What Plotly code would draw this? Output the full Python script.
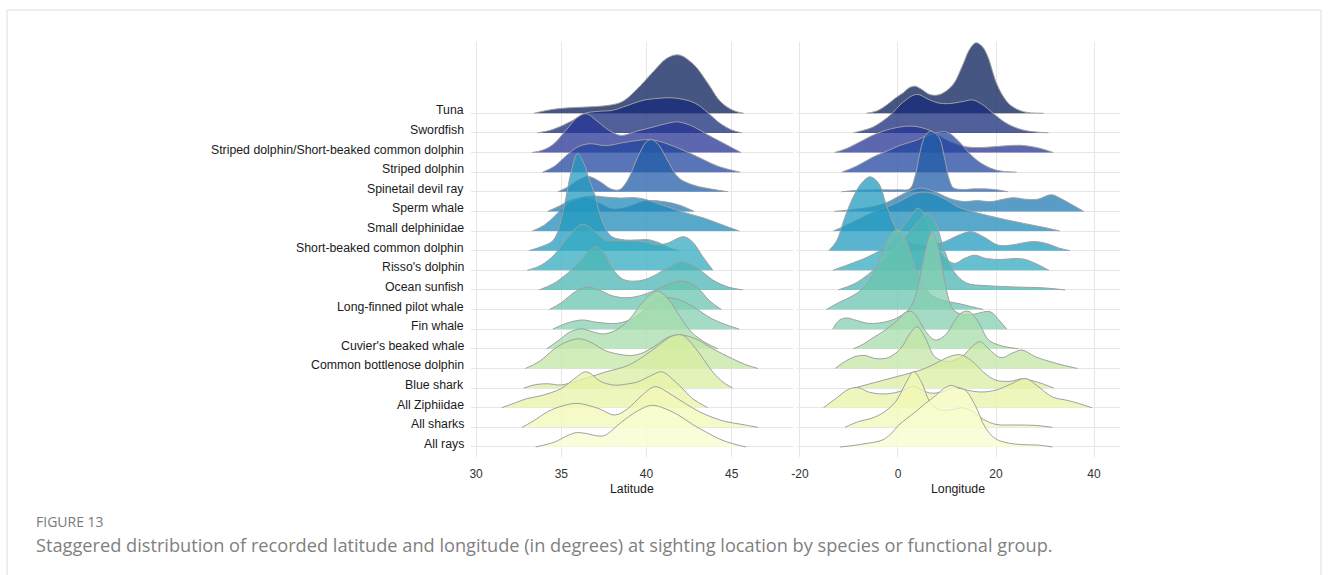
import plotly.graph_objects as go

# ---------------- data (ridge heights in row units) -------------
species = ["Tuna", "Swordfish", "Striped dolphin/Short-beaked common dolphin",
           "Striped dolphin", "Spinetail devil ray", "Sperm whale", "Small delphinidae",
           "Short-beaked common dolphin", "Risso's dolphin", "Ocean sunfish",
           "Long-finned pilot whale", "Fin whale", "Cuvier's beaked whale",
           "Common bottlenose dolphin", "Blue shark", "All Ziphiidae", "All sharks", "All rays"]

lat_ticks = [30, 35, 40, 45]
lat_tick_text = ["30", "35", "40", "45"]
lon_ticks = [-20, 0, 20, 40]
lon_tick_text = ["-20", "0", "20", "40"]

# latitude ridges: (latitude, height)
lat_tuna = [(33.4,0.0),(34.0,0.12),(34.9,0.24),(36.0,0.3),(37.0,0.34),(37.9,0.42),(38.6,0.6),(39.4,1.19),(40.4,2.12),(41.2,2.8),(41.9,2.97),(42.8,2.46),(43.6,1.53),(44.35,0.59),(45.1,0.14),(45.7,0.0)]
lat_swordfish = [(33.6,0.0),(34.3,0.12),(34.9,0.31),(35.8,0.7),(36.4,1.0),(37.2,1.1),(38.0,1.15),(38.8,1.37),(39.8,1.66),(40.7,1.76),(41.6,1.78),(42.8,1.54),(43.6,1.03),(44.3,0.5),(45.0,0.15),(45.6,0.0)]
lat_sd_sbcd = [(33.3,0.0),(33.9,0.12),(34.5,0.4),(35.3,1.16),(35.9,1.76),(36.45,1.98),(37.1,1.6),(37.8,1.13),(38.5,0.87),(39.4,1.08),(40.4,1.3),(41.4,1.52),(41.9,1.56),(42.8,1.3),(43.6,0.9),(44.7,0.39),(45.55,0.0)]
lat_striped = [(33.9,0.0),(34.6,0.3),(35.3,0.85),(36.0,1.3),(36.7,1.45),(37.6,1.35),(38.6,1.5),(39.5,1.62),(40.3,1.65),(41.2,1.45),(42.2,1.1),(43.2,0.7),(44.2,0.3),(45.5,0.0)]
lat_spinetail = [(34.8,0.0),(35.4,0.25),(36.0,0.6),(36.6,0.78),(37.3,0.5),(37.9,0.15),(38.4,0.1),(38.9,0.6),(39.5,1.8),(40.0,2.55),(40.3,2.66),(40.7,2.4),(41.3,1.5),(41.9,0.7),(42.8,0.33),(43.8,0.14),(44.8,0.0)]
lat_sperm = [(34.2,0.0),(34.9,0.28),(35.6,0.58),(36.4,0.68),(37.2,0.42),(38.0,0.12),(38.8,0.2),(39.5,0.42),(40.1,0.55),(41.0,0.5),(41.9,0.33),(42.8,0.0)]
lat_small_delph = [(33.3,0.0),(34.0,0.3),(34.6,0.75),(35.2,1.27),(36.1,1.68),(36.9,1.78),(37.7,1.72),(38.5,1.68),(39.3,1.7),(39.9,1.62),(41.0,1.3),(42.2,0.95),(43.4,0.65),(44.5,0.3),(45.45,0.0)]
lat_sbcd = [(33.1,0.0),(33.8,0.2),(34.55,0.55),(35.15,2.2),(35.55,3.9),(35.95,4.95),(36.3,4.5),(36.65,3.6),(36.95,2.9),(37.25,1.9),(37.55,1.2),(37.95,0.72),(38.7,0.55),(39.5,0.55),(40.1,0.56),(40.8,0.38),(41.3,0.15),(41.9,0.0)]
lat_risso = [(33.0,0.0),(33.8,0.25),(34.6,0.8),(35.4,1.7),(36.25,2.35),(37.0,1.95),(37.6,1.55),(38.3,1.5),(39.1,1.5),(39.9,1.45),(40.6,1.3),(41.3,1.4),(41.8,1.62),(42.2,1.71),(42.7,1.45),(43.3,0.7),(43.9,0.0)]
lat_sunfish = [(33.7,0.0),(34.5,0.3),(35.3,0.8),(36.2,1.55),(36.7,2.05),(37.05,2.2),(37.5,1.9),(38.0,1.1),(38.6,0.55),(39.4,0.45),(40.2,0.62),(41.2,1.1),(42.1,1.44),(43.0,1.1),(43.9,0.5),(44.8,0.15),(45.65,0.0)]
lat_lfpw = [(34.3,0.0),(35.0,0.35),(35.8,0.9),(36.5,1.15),(37.2,1.0),(38.0,0.7),(38.8,0.6),(39.6,0.7),(40.4,0.95),(41.3,1.3),(42.2,1.45),(43.0,1.1),(43.7,0.45),(44.4,0.0)]
lat_fin = [(34.5,0.0),(35.3,0.3),(36.2,0.47),(37.1,0.35),(38.3,0.3),(39.2,0.55),(40.0,1.05),(40.7,1.5),(41.4,1.6),(42.2,1.4),(43.0,1.0),(43.8,0.55),(44.6,0.25),(45.45,0.0)]
lat_cuvier = [(34.15,0.0),(34.8,0.4),(35.5,0.85),(36.2,1.02),(36.9,0.85),(37.5,0.76),(38.2,0.95),(39.0,1.5),(39.8,2.4),(40.65,2.94),(41.3,2.5),(42.0,1.6),(42.7,0.8),(43.5,0.3),(44.2,0.0)]
lat_cbd = [(32.9,0.0),(33.7,0.35),(34.6,1.0),(35.3,1.35),(36.07,1.51),(36.8,1.3),(37.55,0.92),(38.4,0.72),(39.13,0.66),(39.8,0.8),(40.5,1.15),(41.3,1.6),(42.0,1.71),(42.6,1.6),(43.1,1.42),(43.9,1.0),(45.06,0.49),(45.8,0.2),(46.54,0.0)]
lat_blue_shark = [(32.8,0.0),(33.5,0.18),(34.2,0.22),(35.0,0.16),(36.0,0.39),(36.8,0.6),(37.55,0.81),(38.9,1.15),(39.9,1.66),(40.7,2.17),(41.5,2.65),(42.1,2.7),(42.9,2.0),(43.9,0.81),(44.5,0.3),(45.06,0.0)]
lat_ziphiidae = [(31.5,0.0),(32.3,0.25),(33.0,0.47),(33.8,0.61),(35.0,0.98),(35.8,1.5),(36.46,1.83),(37.35,1.32),(38.14,1.15),(38.8,1.2),(39.5,1.32),(40.3,1.65),(40.9,1.83),(41.7,1.32),(42.2,0.9),(42.7,0.47),(43.6,0.0)]
lat_all_sharks = [(32.7,0.0),(33.5,0.4),(34.2,0.8),(35.1,1.1),(35.97,1.22),(37.15,0.97),(38.14,0.63),(38.9,0.95),(39.7,1.6),(40.5,2.07),(41.5,1.64),(42.3,1.2),(43.1,0.8),(43.9,0.5),(44.66,0.29),(45.6,0.15),(46.54,0.0)]
lat_all_rays = [(33.5,0.0),(34.6,0.25),(35.3,0.55),(35.87,0.73),(36.5,0.68),(37.15,0.56),(37.55,0.59),(38.54,1.27),(39.5,1.85),(40.3,2.12),(41.1,1.95),(41.9,1.61),(42.7,1.15),(43.5,0.76),(44.3,0.4),(45.06,0.17),(45.85,0.0)]

# longitude ridges: (longitude, height)
lon_tuna = [(-6.4,0.0),(-4.3,0.12),(-2.3,0.42),(-0.5,0.78),(1.1,1.05),(2.3,1.3),(3.5,1.38),(4.8,1.22),(6.5,0.95),(8.5,0.95),(11.2,1.45),(13.2,2.45),(14.6,3.25),(15.9,3.59),(17.2,3.4),(18.3,2.9),(20.1,1.53),(21.5,0.85),(22.9,0.42),(25.6,0.08),(29.7,0.0)]
lon_swordfish = [(-9.1,0.0),(-7.2,0.12),(-5.0,0.31),(-1.6,0.9),(1.1,1.58),(3.8,1.96),(6.3,1.7),(8.3,1.52),(10.3,1.49),(13.3,1.6),(15.2,1.68),(17.2,1.45),(19.4,1.0),(22.2,0.48),(25.6,0.14),(30.7,0.0)]
lon_sd_sbcd = [(-12.9,0.0),(-10.5,0.2),(-8.4,0.46),(-4.3,0.97),(-0.3,1.27),(3.1,1.34),(6.5,1.13),(9.9,0.63),(13.3,0.32),(16.0,0.25),(18.8,0.28),(22.0,0.34),(24.9,0.37),(28.3,0.25),(31.7,0.0)]
lon_striped = [(-11.5,0.0),(-8.5,0.3),(-5.0,0.78),(-2.0,1.1),(0.44,1.37),(3.5,1.6),(6.5,1.9),(9.9,2.05),(12.3,1.6),(14.6,0.95),(17.0,0.45),(20.1,0.1),(24.2,0.0)]
lon_spinetail = [(-11.5,0.0),(-8.0,0.08),(-4.0,0.1),(0.0,0.1),(2.4,0.15),(3.5,0.8),(4.4,1.9),(5.2,2.66),(6.0,3.0),(6.9,3.08),(7.8,2.95),(8.6,2.66),(9.6,1.6),(10.5,0.6),(11.3,0.2),(13.0,0.12),(16.0,0.15),(19.5,0.12),(22.5,0.0)]
lon_sperm = [(-13.0,0.0),(-9.0,0.1),(-5.0,0.25),(-2.3,0.45),(0.0,0.75),(2.1,1.02),(4.5,1.19),(6.5,1.1),(8.2,0.93),(11.0,0.62),(13.7,0.5),(16.0,0.55),(19.0,0.5),(21.5,0.62),(23.5,0.7),(26.0,0.62),(28.5,0.62),(31.3,0.85),(33.5,0.62),(35.8,0.3),(37.9,0.0)]
lon_small_delph = [(-13.2,0.0),(-10.5,0.3),(-8.0,0.6),(-5.0,0.95),(-2.0,1.25),(1.0,1.6),(4.0,1.95),(6.5,1.95),(9.9,1.58),(12.5,1.2),(15.3,0.98),(18.5,0.78),(22.0,0.58),(25.6,0.39),(29.5,0.2),(33.0,0.0)]
lon_sbcd = [(-14.1,0.0),(-12.5,0.5),(-10.8,1.72),(-9.0,2.8),(-7.4,3.45),(-5.7,3.76),(-4.0,3.45),(-2.3,2.28),(-0.6,1.22),(1.4,0.54),(4.0,0.3),(7.0,0.3),(9.5,0.45),(12.0,0.75),(15.0,0.97),(17.5,0.7),(20.5,0.28),(23.5,0.3),(26.0,0.42),(28.3,0.46),(30.5,0.35),(33.0,0.12),(35.1,0.0)]
lon_risso = [(-13.3,0.0),(-10.0,0.3),(-6.0,0.7),(-2.0,1.3),(1.0,2.2),(3.0,2.9),(4.0,3.17),(5.2,2.9),(7.0,1.8),(9.0,0.8),(11.5,0.35),(13.5,0.6),(15.7,0.77),(18.0,0.6),(21.0,0.55),(24.0,0.6),(26.0,0.55),(28.5,0.3),(30.8,0.0)]
lon_sunfish = [(-12.2,0.0),(-9.0,0.3),(-6.0,0.8),(-3.0,1.5),(0.0,2.3),(2.5,3.0),(4.5,3.6),(6.0,3.9),(7.5,3.5),(9.5,2.0),(11.5,0.9),(14.0,0.35),(18.0,0.22),(24.0,0.15),(30.0,0.1),(34.1,0.0)]
lon_lfpw = [(-14.6,0.0),(-12.5,0.3),(-10.0,0.6),(-7.5,1.0),(-5.5,1.6),(-3.5,2.7),(-1.8,3.7),(-0.1,4.09),(1.5,3.6),(3.2,2.4),(5.0,1.3),(7.0,0.7),(9.5,0.45),(12.5,0.3),(15.0,0.15),(17.4,0.0)]
lon_fin = [(-13.3,0.0),(-12.0,0.45),(-10.5,0.57),(-8.5,0.45),(-6.0,0.3),(-3.0,0.35),(0.0,0.6),(2.5,1.1),(4.2,2.3),(5.5,3.9),(6.9,4.95),(8.2,4.2),(9.5,2.5),(11.0,1.1),(12.5,0.8),(15.0,0.75),(18.8,0.89),(20.5,0.5),(22.2,0.0)]
lon_cuvier = [(-9.1,0.0),(-7.0,0.25),(-5.3,0.53),(-2.6,0.96),(0.1,1.5),(1.5,1.85),(2.8,1.9),(4.2,1.5),(5.6,0.9),(7.6,0.45),(9.65,0.7),(11.5,1.4),(13.0,1.85),(14.5,1.9),(16.3,1.4),(18.5,0.45),(20.5,0.2),(22.0,0.1),(24.6,0.0)]
lon_cbd = [(-12.8,0.0),(-10.5,0.4),(-8.5,0.62),(-6.7,0.66),(-4.5,0.5),(-2.0,0.55),(0.5,1.0),(2.5,1.8),(3.9,2.12),(5.5,1.6),(7.5,0.6),(10.0,0.35),(13.0,0.6),(15.5,1.2),(16.8,1.36),(18.5,1.0),(21.0,0.55),(23.5,0.8),(25.3,0.94),(28.0,0.6),(31.0,0.35),(34.0,0.15),(36.6,0.0)]
lon_blue_shark = [(-9.0,0.0),(-6.0,0.2),(-3.0,0.4),(0.0,0.6),(3.0,0.8),(5.5,1.0),(8.0,1.3),(10.5,1.6),(12.7,1.7),(15.0,1.4),(17.5,0.8),(20.0,0.4),(23.0,0.35),(25.3,0.47),(28.5,0.3),(31.8,0.0)]
lon_ziphiidae = [(-15.2,0.0),(-12.5,0.5),(-10.0,0.95),(-8.0,1.02),(-6.0,0.8),(-3.0,0.7),(0.0,0.8),(2.0,1.0),(3.2,1.1),(4.5,0.95),(6.5,0.75),(9.0,0.8),(11.7,1.05),(14.0,0.9),(17.0,0.8),(20.0,0.9),(23.0,1.2),(26.0,1.49),(28.5,1.1),(31.5,0.55),(35.0,0.35),(39.6,0.0)]
lon_all_sharks = [(-10.8,0.0),(-8.0,0.3),(-5.5,0.45),(-3.0,0.75),(-0.5,1.3),(1.5,2.2),(3.2,2.83),(4.8,2.3),(6.5,1.3),(8.5,0.9),(11.0,0.9),(13.0,1.0),(15.0,0.85),(17.5,0.4),(20.0,0.15),(24.0,0.12),(28.0,0.1),(31.5,0.0)]
lon_all_rays = [(-11.8,0.0),(-9.0,0.08),(-6.7,0.17),(-3.3,0.34),(-1.5,0.65),(0.1,1.1),(1.8,1.45),(3.5,1.78),(5.5,2.2),(7.6,2.6),(9.5,3.0),(11.0,3.14),(12.3,3.0),(13.7,2.9),(15.8,2.1),(17.8,1.0),(19.9,0.42),(22.5,0.2),(25.3,0.12),(28.5,0.1),(31.5,0.0)]

lat_ridges = [lat_tuna, lat_swordfish, lat_sd_sbcd, lat_striped, lat_spinetail, lat_sperm,
              lat_small_delph, lat_sbcd, lat_risso, lat_sunfish, lat_lfpw, lat_fin, lat_cuvier,
              lat_cbd, lat_blue_shark, lat_ziphiidae, lat_all_sharks, lat_all_rays]
lon_ridges = [lon_tuna, lon_swordfish, lon_sd_sbcd, lon_striped, lon_spinetail, lon_sperm,
              lon_small_delph, lon_sbcd, lon_risso, lon_sunfish, lon_lfpw, lon_fin, lon_cuvier,
              lon_cbd, lon_blue_shark, lon_ziphiidae, lon_all_sharks, lon_all_rays]

# ---------------- style ----------------
fill_colors = ["#081d58", "#172a7a", "#253494", "#2346a0", "#225ea8", "#237bb6",
               "#208bbb", "#239bc0", "#33abc0", "#4bb6b6", "#6ac4b0", "#84cfb2",
               "#a7dcab", "#c4e6a6", "#d8eea0", "#e7f4a7", "#f2f8b6", "#fafccd"]
ALPHA = 0.75
LINE_COLOR = "#a0a0a0"
GRID = "#e6e6e6"
W, H = 1328, 575
LABEL_FONT = "Liberation Sans, Arial, sans-serif"


def rgba(hx, a):
    hx = hx.lstrip("#")
    r, g, b = int(hx[0:2], 16), int(hx[2:4], 16), int(hx[4:6], 16)
    return f"rgba({r},{g},{b},{a})"


fig = go.Figure()
n = len(species)
for ridges, xa, ya in [(lat_ridges, "x", "y"), (lon_ridges, "x2", "y2")]:
    for i, pts in enumerate(ridges):
        base = n - 1 - i
        xs = [p[0] for p in pts]
        ys = [base + p[1] for p in pts]
        fig.add_trace(go.Scatter(x=[xs[0], xs[-1]], y=[base, base], mode="lines",
                                 line=dict(width=0, color="rgba(0,0,0,0)"),
                                 hoverinfo="skip", showlegend=False, xaxis=xa, yaxis=ya))
        fig.add_trace(go.Scatter(x=xs, y=ys, mode="lines", name=species[i],
                                 line=dict(color=LINE_COLOR, width=1, shape="spline", smoothing=1),
                                 fill="tonexty", fillcolor=rgba(fill_colors[i], ALPHA),
                                 showlegend=False, xaxis=xa, yaxis=ya))

ydom = [1 - 457 / H, 1 - 42 / H]
yrange = [-0.51, 20.63]
axis_common = dict(showgrid=True, gridcolor=GRID, gridwidth=1, zeroline=False, showline=False)
xtick = dict(ticks="outside", ticklen=6, tickcolor="rgba(0,0,0,0)",
             tickfont=dict(family=LABEL_FONT, size=12, color="#333333"))
fig.update_layout(
    width=W, height=H, margin=dict(l=0, r=0, t=0, b=0, autoexpand=False),
    paper_bgcolor="white", plot_bgcolor="white", showlegend=False,
    xaxis=dict(domain=[471 / W, 793 / W], range=[29.7, 48.6], tickvals=lat_ticks,
               ticktext=lat_tick_text, anchor="y", **axis_common, **xtick),
    xaxis2=dict(domain=[797 / W, 1120 / W], range=[-20.6, 45.3], tickvals=lon_ticks,
                ticktext=lon_tick_text, anchor="y2", **axis_common, **xtick),
    yaxis=dict(domain=ydom, range=yrange, tickvals=list(range(n)), showticklabels=False,
               ticks="", anchor="x", **axis_common),
    yaxis2=dict(domain=ydom, range=yrange, tickvals=list(range(n)), showticklabels=False,
                ticks="", anchor="x2", **axis_common),
)

ann = []
for i, name in enumerate(species):
    ann.append(dict(text=name, x=466 / W, xref="paper", xanchor="right", y=n - 1 - i,
                    yref="y", yanchor="middle", yshift=3, showarrow=False,
                    font=dict(family=LABEL_FONT, size=12.3, color="#1a1a1a")))
ann.append(dict(text="Latitude", x=632 / W, xref="paper", xanchor="center", y=1 - 489 / H,
                yref="paper", yanchor="middle", showarrow=False,
                font=dict(family=LABEL_FONT, size=12.3, color="#1a1a1a")))
ann.append(dict(text="Longitude", x=958 / W, xref="paper", xanchor="center", y=1 - 489 / H,
                yref="paper", yanchor="middle", showarrow=False,
                font=dict(family=LABEL_FONT, size=12.3, color="#1a1a1a")))
ann.append(dict(text="FIGURE 13", x=34 / W, xref="paper", xanchor="left", y=1 - 521 / H,
                yref="paper", yanchor="middle", showarrow=False,
                font=dict(family="Open Sans", size=14, color="#7a7a7a")))
ann.append(dict(text="Staggered distribution of recorded latitude and longitude (in degrees) at "
                     "sighting location by species or functional group.",
                x=34 / W, xref="paper", xanchor="left", y=1 - 545 / H, yref="paper",
                yanchor="middle", showarrow=False,
                font=dict(family="Open Sans", size=18.2, color="#7f7f7f")))
fig.update_layout(annotations=ann)

fig.add_shape(type="rect", xref="paper", yref="paper", x0=7 / W, x1=1321 / W,
              y0=-0.05, y1=1 - 10 / H, line=dict(color="#dcdcdc", width=1),
              fillcolor="rgba(0,0,0,0)", layer="below")

fig.write_html("out.html", config={"displayModeBar": False},
               post_script="document.body.style.margin='0';document.body.style.overflow='hidden';")
